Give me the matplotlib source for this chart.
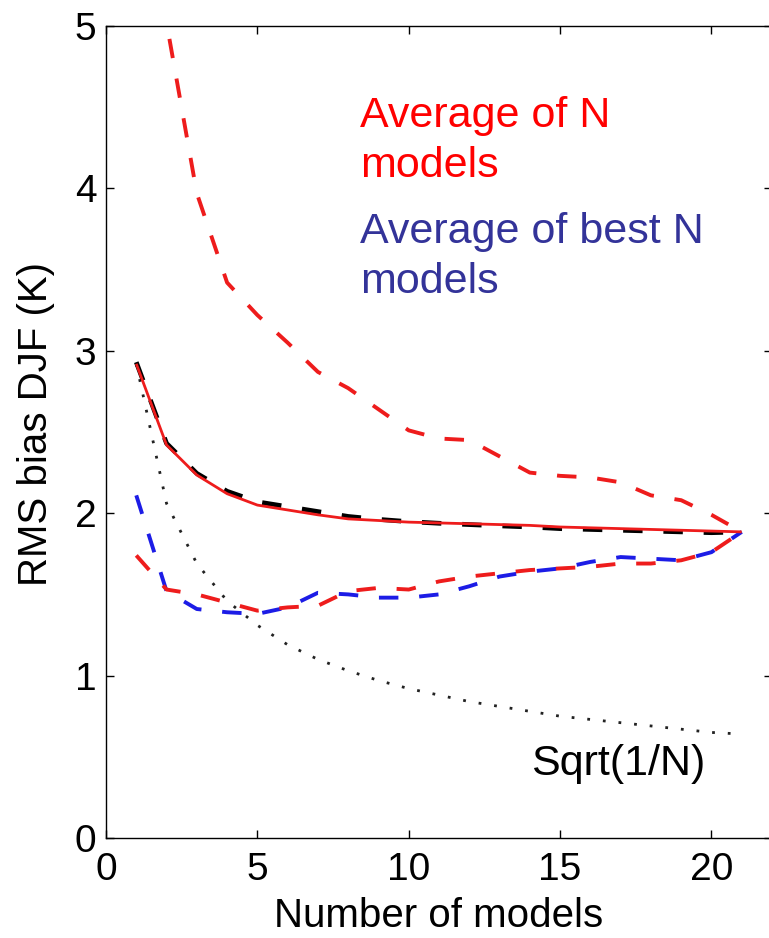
import matplotlib
matplotlib.use("Agg")
import matplotlib.pyplot as plt

plt.rcParams['font.family'] = ['Liberation Sans', 'DejaVu Sans']
plt.rcParams['lines.scale_dashes'] = False

# Ensemble size
n_models = list(range(1, 22))

# RMS bias (K) of the multi-model average, spread envelope and best-N selection
mean_all = [2.92, 2.42, 2.235, 2.12, 2.05, 2.02, 1.99, 1.965, 1.955, 1.945, 1.94,
            1.935, 1.93, 1.925, 1.915, 1.91, 1.905, 1.90, 1.895, 1.89, 1.885]
mean_ref = [2.93, 2.43, 2.245, 2.135, 2.07, 2.04, 2.01, 1.98, 1.962, 1.948, 1.938,
            1.93, 1.922, 1.915, 1.905, 1.9, 1.895, 1.89, 1.885, 1.88, 1.885]
upper_all = [7.0, 5.02, 3.97, 3.42, 3.22, 3.05, 2.87, 2.77, 2.64, 2.51, 2.46,
             2.45, 2.35, 2.25, 2.23, 2.22, 2.19, 2.11, 2.08, 1.99, 1.885]
lower_all = [1.74, 1.53, 1.50, 1.45, 1.40, 1.42, 1.43, 1.52, 1.54, 1.53, 1.58,
             1.61, 1.63, 1.65, 1.66, 1.67, 1.69, 1.69, 1.71, 1.76, 1.885]
best_n = [2.11, 1.52, 1.41, 1.39, 1.38, 1.42, 1.51, 1.50, 1.48, 1.48, 1.50,
          1.55, 1.61, 1.64, 1.66, 1.70, 1.73, 1.72, 1.71, 1.76, 1.885]
sqrt_ref = [2.92, 2.06, 1.69, 1.46, 1.31, 1.19, 1.10, 1.03, 0.97, 0.92, 0.88,
            0.84, 0.81, 0.78, 0.75, 0.73, 0.71, 0.69, 0.67, 0.65, 0.64]

x_ticks = [0, 5, 10, 15, 20]
y_ticks = [0, 1, 2, 3, 4, 5]

RED = '#ee1c1c'
BLUE = '#1c1ce6'
dash = (0, (14, 15))

fig = plt.figure(figsize=(7.69, 9.38), dpi=100)
ax = fig.add_axes([106 / 769, 100 / 938, 666 / 769, 812 / 938])

ax.plot(n_models, sqrt_ref, color='#222222', lw=2.0, linestyle=(0, (2, 9.3)),
        dash_capstyle='butt')
ax.plot(n_models, upper_all, color=RED, lw=2.8, linestyle=dash, dash_capstyle='butt')
ax.plot(n_models, best_n, color=BLUE, lw=2.8, linestyle=dash, dash_capstyle='butt')
ax.plot(n_models, lower_all, color=RED, lw=2.8, linestyle=dash, dash_capstyle='butt')
ax.plot(n_models, mean_ref, color='black', lw=3.4, linestyle=dash, dash_capstyle='butt')
ax.plot(n_models, mean_all, color=RED, lw=2.0, solid_capstyle='butt')

ax.set_xlim(0, 22)
ax.set_ylim(0, 5)
ax.set_xticks(x_ticks)
ax.set_yticks(y_ticks)
ax.tick_params(direction='in', length=5.5, width=1.0, labelsize=28,
               top=True, right=True)
ax.tick_params(axis='x', pad=10)
ax.tick_params(axis='y', pad=7)
for side in ('left', 'bottom', 'top', 'right'):
    ax.spines[side].set_linewidth(1.0)

ax.set_xlabel('Number of models', fontsize=29)
ax.set_ylabel('RMS bias DJF (K)', fontsize=29)
ax.xaxis.set_label_coords(0.5, -0.0727)
ax.yaxis.set_label_coords(-0.077, 0.51)

txt = dict(fontsize=31, va='baseline', ha='left')
ax.text(8.38, 4.380, 'Average of N', color='#ff0000', **txt)
ax.text(8.38, 4.072, 'models', color='#ff0000', **txt)
ax.text(8.38, 3.664, 'Average of best N', color='#333399', **txt)
ax.text(8.38, 3.356, 'models', color='#333399', **txt)
ax.text(14.05, 0.388, 'Sqrt(1/N)', color='black', **txt)

fig.savefig('out.png', dpi=100)
